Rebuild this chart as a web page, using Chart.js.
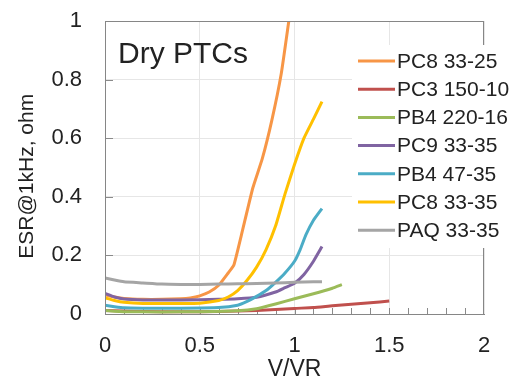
<!DOCTYPE html>
<html>
<head>
<meta charset="utf-8">
<script src="https://cdn.jsdelivr.net/npm/chart.js@4.4.1/dist/chart.umd.min.js"></script>
<style>
  html, body { margin: 0; padding: 0; background: #fff; }
  #wrap { width: 514px; height: 376px; }
</style>
</head>
<body>
<div id="wrap"><canvas id="esrChart" width="514" height="376"></canvas></div>
<script>
// values (V/VR on x, ESR in ohm on y)
const seriesNames = ['PC8 33-25', 'PC3 150-10', 'PB4 220-16', 'PC9 33-35', 'PB4 47-35', 'PC8 33-35', 'PAQ 33-35'];
const seriesColors = ['#F79646', '#C0504D', '#9BBB59', '#8064A2', '#4BACC6', '#FFC000', '#A5A5A5'];

const pc8_25_x = [0, 0.05, 0.1, 0.2, 0.3, 0.4, 0.45, 0.5, 0.55, 0.6, 0.65, 0.68, 0.72, 0.78, 0.83, 0.88, 0.93, 0.97];
const pc8_25_y = [0.065, 0.058, 0.053, 0.05, 0.05, 0.052, 0.055, 0.062, 0.075, 0.098, 0.14, 0.167, 0.27, 0.43, 0.53, 0.66, 0.82, 1.0];

const pc3_x = [0, 0.1, 0.3, 0.5, 0.7, 0.9, 1.0, 1.1, 1.2, 1.3, 1.4, 1.5];
const pc3_y = [0.012, 0.01, 0.008, 0.008, 0.01, 0.015, 0.019, 0.022, 0.028, 0.033, 0.038, 0.044];

const pb4_220_x = [0, 0.1, 0.3, 0.5, 0.7, 0.8, 0.9, 1.0, 1.1, 1.2, 1.25];
const pb4_220_y = [0.012, 0.008, 0.007, 0.008, 0.011, 0.018, 0.034, 0.052, 0.069, 0.088, 0.1];

const pc9_x = [0, 0.05, 0.1, 0.2, 0.4, 0.6, 0.7, 0.8, 0.9, 0.95, 1.0, 1.05, 1.1, 1.145];
const pc9_y = [0.07, 0.058, 0.051, 0.048, 0.048, 0.05, 0.052, 0.057, 0.075, 0.09, 0.105, 0.135, 0.18, 0.23];

const pb4_47_x = [0, 0.05, 0.1, 0.2, 0.4, 0.6, 0.7, 0.75, 0.8, 0.85, 0.9, 0.95, 1.0, 1.03, 1.06, 1.1, 1.145];
const pb4_47_y = [0.03, 0.025, 0.021, 0.02, 0.02, 0.022, 0.03, 0.043, 0.06, 0.08, 0.108, 0.14, 0.18, 0.22, 0.27, 0.32, 0.36];

const pc8_35_x = [0, 0.05, 0.1, 0.2, 0.4, 0.5, 0.6, 0.65, 0.7, 0.75, 0.8, 0.85, 0.9, 0.95, 1.0, 1.05, 1.1, 1.145];
const pc8_35_y = [0.055, 0.046, 0.04, 0.036, 0.036, 0.037, 0.046, 0.058, 0.08, 0.115, 0.16, 0.22, 0.3, 0.41, 0.51, 0.6, 0.665, 0.725];

const paq_x = [0, 0.05, 0.1, 0.2, 0.3, 0.4, 0.5, 0.6, 0.7, 0.8, 0.9, 1.0, 1.1, 1.145];
const paq_y = [0.123, 0.116, 0.11, 0.106, 0.102, 0.101, 0.101, 0.102, 0.103, 0.104, 0.106, 0.108, 0.11, 0.11];

const xValues = [pc8_25_x, pc3_x, pb4_220_x, pc9_x, pb4_47_x, pc8_35_x, paq_x];
const yValues = [pc8_25_y, pc3_y, pb4_220_y, pc9_y, pb4_47_y, pc8_35_y, paq_y];

const xTicks = [0, 0.5, 1, 1.5, 2];
const yTicks = [0, 0.2, 0.4, 0.6, 0.8, 1];

const FONT = '"Liberation Sans", Arial, sans-serif';
const TEXT = '#222';

const datasets = seriesNames.map((name, i) => ({
    label: name,
    data: xValues[i].map((x, k) => ({ x: x, y: yValues[i][k] })),
    borderColor: seriesColors[i],
    backgroundColor: seriesColors[i],
    borderWidth: 3,
    pointRadius: 0,
    tension: 0.15,
    fill: false,
    order: seriesNames.length - i   // later series on top, like Excel
}));

// "Dry PTCs" label, inside ticks and the legend box
const decorations = {
    id: 'decorations',
    beforeDatasetsDraw(chart) {
        const { ctx, chartArea, scales } = chart;
        ctx.save();
        ctx.strokeStyle = '#8a8a8a';
        ctx.lineWidth = 1;
        ctx.beginPath();
        for (let v = 0.2; v < 0.99; v += 0.2) {
            const y = Math.round(scales.y.getPixelForValue(v)) + 0.5;
            ctx.moveTo(chartArea.left, y);
            ctx.lineTo(chartArea.left + 8, y);
        }
        for (let v = 0.1; v < 1.95; v += 0.1) {
            const x = Math.round(scales.x.getPixelForValue(v)) + 0.5;
            ctx.moveTo(x, chartArea.bottom);
            ctx.lineTo(x, chartArea.bottom - 6);
        }
        ctx.stroke();
        ctx.restore();
    },
    afterDraw(chart) {
        const { ctx } = chart;
        ctx.save();
        ctx.fillStyle = TEXT;
        ctx.font = '30px ' + FONT;
        ctx.textBaseline = 'alphabetic';
        ctx.textAlign = 'left';
        ctx.fillText('Dry PTCs', 118, 63);

        ctx.fillStyle = '#fff';
        ctx.fillRect(352, 45, 162, 203);
        ctx.font = '21px ' + FONT;
        ctx.textBaseline = 'middle';
        seriesNames.forEach((name, i) => {
            const y = 61 + i * 28.2;
            ctx.strokeStyle = seriesColors[i];
            ctx.lineWidth = 3;
            ctx.beginPath();
            ctx.moveTo(358, y);
            ctx.lineTo(395, y);
            ctx.stroke();
            ctx.fillStyle = TEXT;
            ctx.fillText(name, 397, y + 1);
        });
        ctx.restore();
    }
};

const ctx = document.getElementById('esrChart').getContext('2d');
const chart = new Chart(ctx, {
    type: 'line',
    data: { datasets: datasets },
    options: {
        responsive: false,
        animation: false,
        layout: { padding: { top: 21, right: 30, left: 0, bottom: 0 } },
        plugins: {
            legend: { display: false },
            tooltip: { enabled: false }
        },
        scales: {
            x: {
                type: 'linear',
                min: 0,
                max: 2,
                afterBuildTicks: s => { s.ticks = xTicks.map(v => ({ value: v })); },
                afterFit: s => { s.height = 62; s.paddingLeft = 0; s.paddingRight = 0; },
                ticks: {
                    font: { family: FONT, size: 22 },
                    color: TEXT,
                    padding: 19,
                    maxRotation: 0,
                    callback: v => String(Math.round(v * 10) / 10)
                },
                grid: { color: '#e6e6e6', drawTicks: false },
                border: { color: '#868686', width: 1 },
                title: {
                    display: true,
                    text: 'V/VR',
                    font: { family: FONT, size: 23, lineHeight: 1 },
                    color: TEXT,
                    padding: { top: 0, bottom: -5 }
                }
            },
            y: {
                min: 0,
                max: 1,
                afterBuildTicks: s => { s.ticks = yTicks.map(v => ({ value: v })); },
                afterFit: s => { s.width = 105; s.paddingTop = 0; s.paddingBottom = 0; },
                ticks: {
                    font: { family: FONT, size: 22 },
                    color: TEXT,
                    padding: 23,
                    callback: v => String(Math.round(v * 10) / 10)
                },
                grid: { color: '#e6e6e6', drawTicks: false },
                border: { color: '#868686', width: 1 },
                title: {
                    display: true,
                    text: 'ESR@1kHz, ohm   ',
                    font: { family: FONT, size: 21, lineHeight: 1 },
                    color: TEXT,
                    padding: { top: 17, bottom: 0 }
                }
            }
        }
    },
    plugins: [decorations, {
        id: 'frame',
        afterDatasetsDraw(chart) {
            const { ctx, chartArea } = chart;
            ctx.save();
            ctx.strokeStyle = '#868686';
            ctx.lineWidth = 1;
            ctx.strokeRect(chartArea.left + 0.5, chartArea.top + 0.5,
                chartArea.right - chartArea.left - 1, chartArea.bottom - chartArea.top);
            ctx.restore();
        }
    }]
});
</script>
</body>
</html>
